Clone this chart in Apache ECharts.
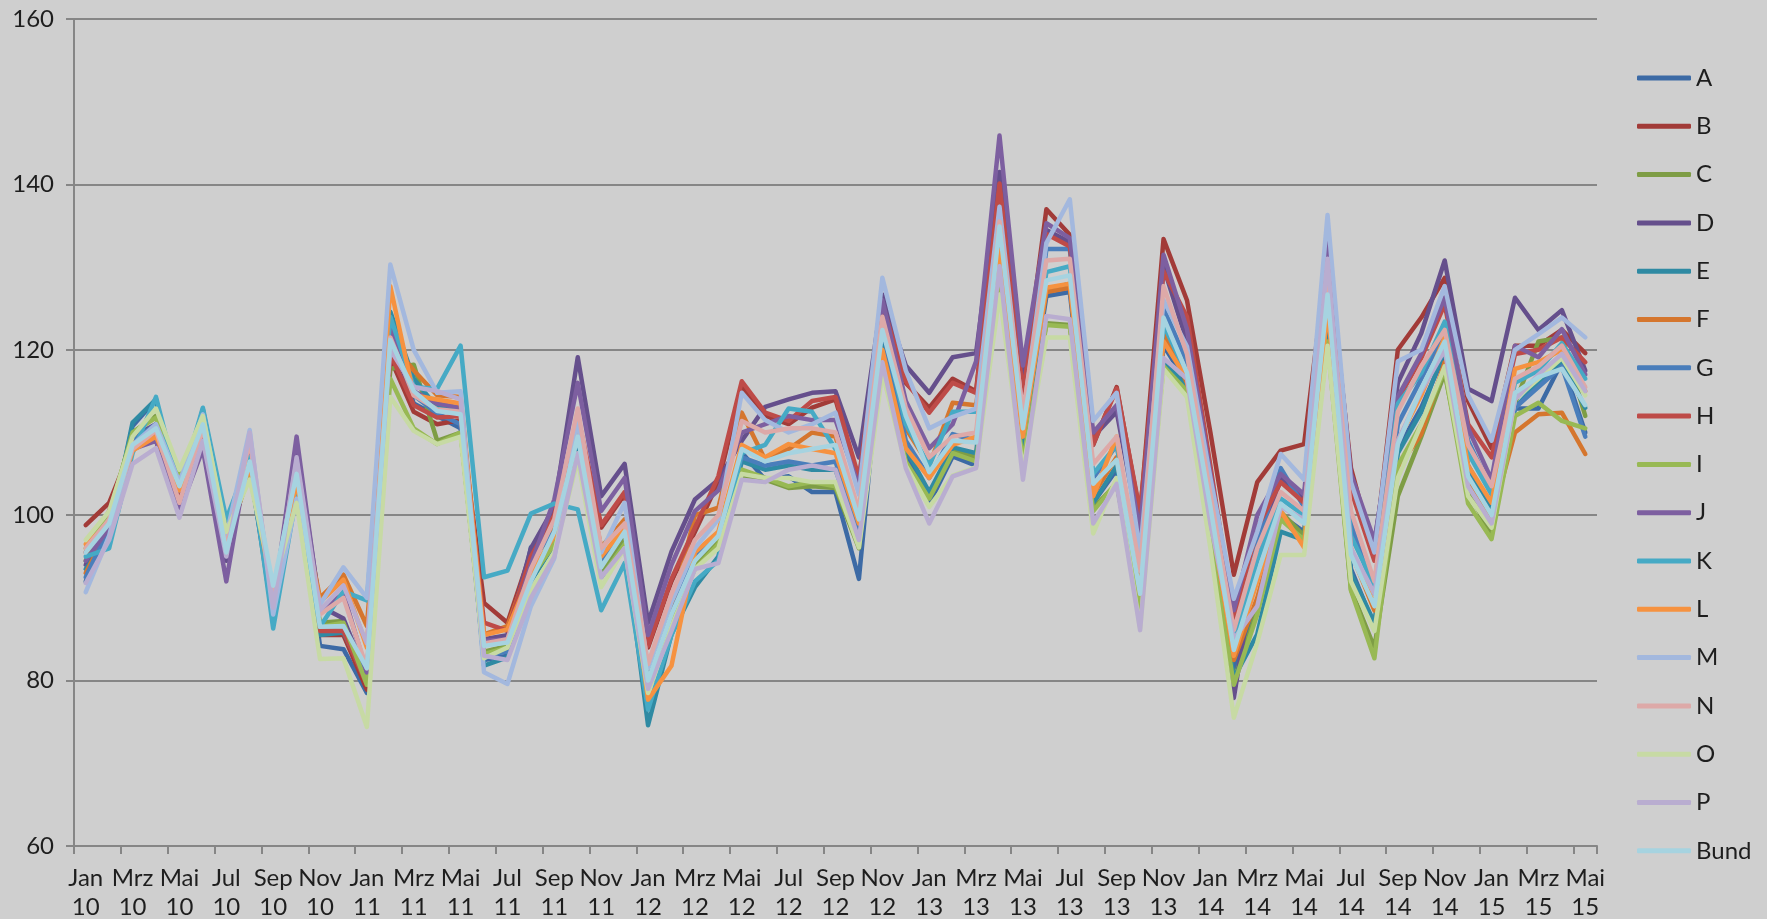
<!DOCTYPE html>
<html>
<head>
<meta charset="utf-8">
<script src="https://cdn.jsdelivr.net/npm/echarts@6/dist/echarts.min.js"></script>
<style>
  html, body { margin: 0; padding: 0; background: #cfcfcf; }
  #chart { width: 1767px; height: 919px; }
</style>
</head>
<body>
<div id="chart"></div>
<script>
// Monatsachse: Jan 10 .. Mai 15
const monthNames = ['Jan', 'Feb', 'Mrz', 'Apr', 'Mai', 'Jun', 'Jul', 'Aug', 'Sep', 'Okt', 'Nov', 'Dez']
const yearLabels = ['10', '11', '12', '13', '14', '15']
const lastMonthCount = 5 // 2015 endet im Mai

const seriesNames = ['A', 'B', 'C', 'D', 'E', 'F', 'G', 'H', 'I', 'J', 'K', 'L', 'M', 'N', 'O', 'P', 'Bund']
const seriesColors = ['#3c6aa5', '#a23b38', '#7e9d45', '#654f8c', '#2f8aa3', '#d5762e', '#4a7ebb', '#be4b48',
  '#98b954', '#7d5fa0', '#46aac5', '#f69240', '#a3b8de', '#dda9a8', '#c7daa4', '#b9add0', '#a6d3e0']

const dataA = [
  92, 98, 110.8, 114, 102, 112.5, 96.5, 105.5, 88.5, 104, 84.2, 83.8,
  78.5, 122, 113.5, 112, 110.5, 82.5, 83, 96.1, 98, 109, 94, 97.5,
  79, 86.5, 94.7, 96.5, 107.6, 104.3, 104.7, 102.8, 102.8, 92.3, 122, 107.5,
  101.4, 107.1, 106, 131.5, 108, 126.5, 127, 101.5, 105.5, 89.5, 120.5, 116,
  99, 81.5, 89.5, 100, 98, 125, 93.5, 86.6, 108, 113, 119.5, 106,
  101, 112.9, 112.9, 118.5, 110]
const dataB = [
  98.8, 101.5, 108.5, 109, 101.5, 109.8, 95, 106.5, 89.5, 105, 85.5, 85.5,
  78.9, 119, 112.5, 111, 111.5, 89.4, 87, 95.5, 99.5, 111, 98.5, 102.5,
  84, 92, 98, 104, 115.5, 112, 111, 113, 114, 104, 125.5, 116,
  113, 116.5, 115, 141, 115.5, 137, 133.9, 108.5, 115.5, 100, 133.4, 126,
  110, 92.8, 104, 107.8, 108.6, 131.5, 105.7, 95.2, 120, 123.9, 128.7, 113.8,
  108.1, 120.5, 120.5, 122.4, 119.6]
const dataC = [
  94.5, 100, 110, 112, 104.5, 111.5, 97, 105, 90.5, 103, 87, 87.2,
  79.8, 117.7, 118.2, 109, 110, 83.5, 84.2, 93, 97, 108, 93, 97,
  79.5, 87.5, 94, 97, 104.5, 104.3, 103.3, 103.5, 103.3, 96, 119, 106.2,
  102.5, 108, 107, 129, 107, 123.2, 123, 100.9, 103.8, 88.5, 118.5, 115,
  97.5, 80, 88.5, 100.4, 97.5, 122, 91, 84, 102.3, 109.5, 117.2, 103,
  97.5, 113.5, 121, 121.5, 112]
const dataD = [
  94, 99, 109.5, 111, 101, 110, 94.5, 108, 89, 108, 89, 87.5,
  80.5, 120.5, 114.8, 113, 112.5, 85, 85.5, 96, 101, 119.1, 102.3, 106.2,
  87, 95.6, 101.9, 104.3, 109, 113.1, 114, 114.8, 115, 107, 126.7, 118.1,
  114.8, 119.1, 119.6, 141.5, 116.5, 134.5, 133, 109.5, 112.5, 97.5, 130, 121,
  104, 77.9, 95.5, 104.5, 102, 132, 104, 96.5, 116, 122, 130.8, 115.3,
  113.8, 126.3, 122.4, 124.8, 117.5]
const dataE = [
  93.5, 97.5, 111.2, 114, 102.5, 112.8, 98.5, 106, 87.3, 103.5, 85.5, 85.8,
  80, 124.6, 116.5, 113, 112.8, 81.8, 82.8, 92, 96.5, 108.5, 92.5, 96.5,
  74.6, 85.6, 91.3, 95, 106.5, 105.5, 106, 105.5, 105.5, 97.5, 121.5, 108,
  102.8, 108.2, 107.5, 131.5, 108.5, 127.2, 128, 101.5, 106, 89.5, 118.6, 115.5,
  98, 80.3, 85.6, 98, 97, 124, 93, 87, 107.5, 112.5, 120, 105,
  100.5, 113, 116, 118.5, 113]
const dataF = [
  93, 98.5, 108, 109.8, 102.8, 110.5, 96, 105.5, 89.8, 104, 90, 92.8,
  86.6, 121, 117.5, 114.5, 114.3, 85.6, 86.6, 94.5, 98.5, 110, 96.1, 99.5,
  80.5, 88.5, 100, 100.9, 112.4, 106.7, 108, 110, 109.5, 100, 124.8, 110.5,
  106, 113.6, 113.3, 133, 110, 127, 127.5, 102.5, 107, 90, 122, 116,
  99.5, 82.5, 90, 100, 96.5, 125.5, 95.5, 88.5, 105.7, 109.8, 118.5, 104,
  99.5, 110, 112.2, 112.4, 107.4]
const dataG = [
  92.5, 98.5, 109, 111, 102, 111, 96.5, 106, 88.5, 104.5, 86, 86,
  80.5, 123, 114.5, 112.3, 111, 83, 83.5, 94.5, 98, 109.5, 94.5, 98.5,
  80, 88, 95, 97.5, 107, 106, 106.5, 106, 106.5, 98, 122.8, 109,
  104.5, 109.8, 109, 134, 109.5, 132.2, 132.2, 104.5, 108.5, 93, 125, 118.5,
  102, 85.5, 96.5, 105.7, 101, 128, 99, 90.5, 111, 116.5, 122, 109,
  103, 113, 115.5, 118, 109.5]
const dataH = [
  95.5, 100.5, 108.8, 109, 101.8, 110, 95.5, 107, 89.5, 105.5, 86, 86,
  79.5, 119.5, 113.3, 111.8, 112, 87, 86, 95, 100, 112, 98.8, 102.8,
  84.2, 92.3, 98.5, 104.7, 116.2, 112.4, 111.4, 113.8, 114.3, 104.5, 125.5, 116.2,
  112.4, 116, 114.8, 140.1, 114.8, 134, 132.5, 108.6, 115.3, 100.4, 129.5, 124,
  106, 87.5, 98.5, 104, 101.5, 130.5, 103, 94.5, 114, 119, 125.5, 111,
  107, 119.5, 120, 121.5, 118.5]
const dataI = [
  96, 100, 110, 111.8, 104.8, 111.5, 97, 105, 91, 102.5, 86.5, 87,
  79.5, 116.5, 110.5, 108.6, 110, 83.2, 84, 92.5, 96.5, 107.5, 92.5, 96.5,
  79.5, 87, 93.5, 96.5, 105.5, 104.5, 103.5, 104, 103.5, 96.5, 118.5, 106.5,
  102, 107.5, 106.5, 128, 106.5, 123, 122.8, 100.5, 104, 88.5, 118, 115,
  97, 79.5, 88, 99.5, 97, 121, 90.9, 82.7, 106, 111, 117.5, 101.4,
  97.1, 112, 113.6, 111.4, 110.5]
const dataJ = [
  94.5, 98.5, 108, 109, 100.5, 108, 92, 108.5, 89, 109.5, 88.5, 90.5,
  81, 122.4, 115, 113.5, 113, 84.8, 85, 94, 101.9, 116, 100.5, 104.5,
  85.5, 94, 100.5, 103, 110, 111, 112, 111.5, 111.5, 103.5, 126, 113.8,
  108.1, 111, 118.6, 145.9, 118.1, 135.3, 133.5, 110, 113.3, 98, 131.5, 122.5,
  105, 88.5, 100, 105, 102.5, 133, 105, 96.9, 114.3, 119.5, 126.3, 110.5,
  104.3, 120.5, 119.1, 122.5, 117]
const dataK = [
  95, 96, 107.5, 114.3, 103.2, 113, 99.5, 107, 86.3, 102.5, 86.5, 90.8,
  89.7, 124, 115.5, 115.3, 120.5, 92.5, 93.3, 100.2, 101.4, 100.7, 88.5, 94.2,
  76.5, 85.5, 92, 94.5, 107.5, 108.5, 112.9, 112.5, 108, 99.5, 123, 111,
  106, 112.5, 112.5, 134, 111, 129.4, 130.1, 105, 108.5, 92, 123, 117,
  100.5, 84.5, 94.5, 102, 100, 127.5, 97.5, 91.5, 113.5, 117.2, 123.4, 107.5,
  102.5, 116, 117.5, 120.8, 116.5]
const dataL = [
  96.5, 99, 107.8, 109.5, 103, 110.8, 96.5, 106, 90, 104, 89.5, 92.2,
  84, 127.7, 114.5, 114, 113.5, 85.5, 86.2, 93, 97.5, 110, 95, 98.5,
  77.7, 81.8, 95.5, 98, 108.5, 107, 108.6, 108, 107.5, 99, 120, 108.1,
  104.5, 108.5, 109.5, 132, 109.5, 127.5, 128, 102.3, 109.5, 90.5, 121, 116.5,
  100, 83, 92, 100.5, 96.1, 125, 96, 89, 109, 114.5, 121.5, 106,
  101.5, 117.7, 118.5, 120, 115]
const dataM = [
  90.7, 97.5, 108.5, 111, 104, 112.2, 97.5, 110.3, 88, 102, 89.2, 93.7,
  90, 130.3, 120, 114.8, 115, 81, 79.6, 89, 94.8, 111.5, 95.5, 101.5,
  81.5, 89.5, 96, 99.5, 114.8, 111.5, 110, 111, 112.4, 102.5, 128.7, 117.5,
  110.5, 111.9, 112.9, 137.3, 112, 132.9, 138.2, 111.4, 114.8, 95.5, 126, 120.4,
  104.5, 89.9, 98, 107.4, 104.3, 136.3, 104, 95.5, 118.6, 120, 127.7, 114.5,
  109, 120, 121.9, 123.9, 121.5]
const dataN = [
  96, 99.5, 108, 110.2, 101.5, 110.5, 96, 109, 89.5, 106.5, 88, 90,
  81.5, 121.5, 114.5, 112.8, 112.5, 84.5, 85, 93.5, 99.5, 112.9, 96, 99,
  82, 90.5, 97, 100, 111.4, 110, 110.5, 110.5, 110, 100.5, 124, 113,
  107, 109.5, 110, 135.5, 112.4, 130.8, 131, 106.2, 109.5, 93.3, 127.7, 119.5,
  102.5, 86.1, 96, 102.8, 100.5, 129, 100.5, 92, 112.5, 118, 122.4, 108.5,
  103.5, 116.5, 118, 120.5, 115.5]
const dataO = [
  97, 100.5, 109.5, 112.9, 105.5, 112, 98, 104.3, 91.5, 101.5, 82.6, 82.7,
  74.4, 114.3, 110.2, 108.6, 109.5, 82.7, 84, 91, 95.5, 106.7, 91.3, 96,
  78.5, 86.5, 93.5, 96, 105, 104.5, 104.5, 104, 104, 96.1, 117.2, 106,
  101, 104.8, 105.8, 126.7, 105.5, 121.5, 121.5, 97.8, 104.5, 86.3, 117.7, 114.3,
  96, 75.5, 84.6, 95.2, 95.2, 120.5, 92, 86, 104.5, 111, 118, 102.3,
  98.5, 114, 116.5, 119, 114.5]
const dataP = [
  91.8, 97, 106.2, 108.1, 99.7, 109, 95, 110, 88.8, 107, 88.5, 91.5,
  84.5, 120, 115.5, 115, 114, 83, 82.5, 90, 95, 107.5, 92.5, 96,
  79, 86, 93.5, 94.2, 104.3, 104, 105.5, 106, 105.5, 97, 118.5, 105.7,
  99, 104.7, 105.7, 130.1, 104.3, 124.1, 123.7, 99, 103.8, 86.1, 119, 116.5,
  99, 85, 89, 101, 99.5, 131, 96, 90.5, 109, 115, 120, 103.5,
  99, 114, 117, 119.5, 115]
const dataBund = [
  95.5, 99, 108.5, 110.5, 103.5, 111, 95.5, 106.5, 91.5, 105, 86.5, 86.6,
  81.5, 121.2, 115, 112.6, 112.2, 84.2, 84.6, 92, 98, 109.5, 93.7, 98,
  80, 88, 94.5, 97.5, 108, 106.5, 107.5, 108, 108.5, 99.5, 122.4, 112,
  105.2, 109, 108.8, 134.9, 110.5, 128.4, 129, 103.8, 106.7, 90.5, 123.9, 117.2,
  101, 83.7, 92.8, 101.4, 99, 126.7, 95.2, 89, 108.6, 115.3, 121, 104.7,
  100, 114.8, 116.7, 117.7, 113.3]

const seriesData = [dataA, dataB, dataC, dataD, dataE, dataF, dataG, dataH, dataI,
  dataJ, dataK, dataL, dataM, dataN, dataO, dataP, dataBund]

// Kategorien "Jan\n10" ...
let categories = []
for (let y = 0; y < yearLabels.length; y++) {
  let count = y === yearLabels.length - 1 ? lastMonthCount : 12
  for (let m = 0; m < count; m++) {
    categories.push(monthNames[m] + '\n' + yearLabels[y])
  }
}

const axisGray = '#868686'
const textColor = '#1e1e1e'
const fontFamily = 'Lato, "Open Sans", sans-serif'

let myChart = echarts.init(document.getElementById('chart'))

let series = seriesNames.map((name, i) => ({
  name: name,
  type: 'line',
  data: seriesData[i],
  symbol: 'none',
  lineStyle: {
    width: 4.5,
    cap: 'round',
    join: 'round'
  }
}))

let option = {
  backgroundColor: '#cfcfcf',
  animation: false,
  color: seriesColors,
  grid: {
    left: 74,
    right: 170,
    top: 19,
    bottom: 73,
    outerBoundsMode: 'none'
  },
  legend: {
    orient: 'vertical',
    left: 1632,
    top: 61,
    icon: 'roundRect',
    itemWidth: 54,
    itemHeight: 5,
    itemGap: 24.3,
    textStyle: {
      fontSize: 24,
      lineHeight: 22,
      color: textColor,
      fontFamily: fontFamily
    },
    data: seriesNames
  },
  xAxis: {
    type: 'category',
    data: categories,
    boundaryGap: true,
    axisLine: { lineStyle: { color: axisGray, width: 2 } },
    axisTick: {
      show: true,
      interval: 1,
      length: 8,
      lineStyle: { color: axisGray, width: 2 }
    },
    axisLabel: {
      interval: 1,
      fontSize: 24,
      lineHeight: 29,
      margin: 18,
      color: textColor,
      fontFamily: fontFamily
    },
    splitLine: { show: false }
  },
  yAxis: {
    type: 'value',
    min: 60,
    max: 160,
    interval: 20,
    axisLine: { show: true, lineStyle: { color: axisGray, width: 2 } },
    axisTick: { show: true, length: 8, lineStyle: { color: axisGray, width: 2 } },
    axisLabel: {
      fontSize: 24,
      margin: 20,
      color: textColor,
      fontFamily: fontFamily
    },
    splitLine: { lineStyle: { color: axisGray, width: 2 } }
  },
  series: series
}

myChart.setOption(option)
</script>
</body>
</html>
